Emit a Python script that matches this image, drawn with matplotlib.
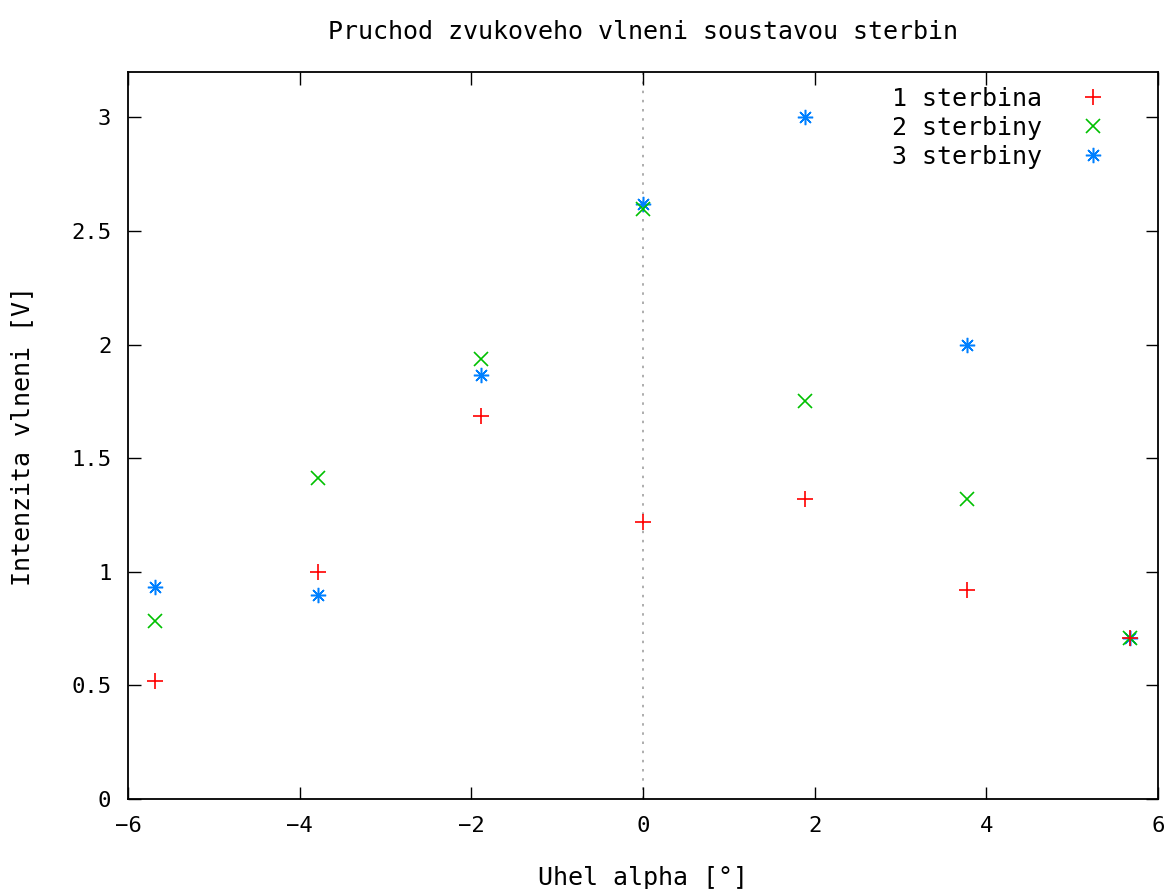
import matplotlib
matplotlib.use("Agg")
import matplotlib.pyplot as plt

# data
uhel = [-5.68, -3.79, -1.89, 0.0, 1.89, 3.78, 5.67]
sterbina1 = [0.52, 1.00, 1.685, 1.22, 1.32, 0.92, 0.71]
sterbiny2 = [0.785, 1.415, 1.935, 2.595, 1.75, 1.32, 0.71]
sterbiny3 = [0.935, 0.90, 1.865, 2.62, 3.00, 2.00, 0.71]

plt.rcParams['font.family'] = ['DejaVu Sans Mono']
plt.rcParams['font.size'] = 16

fig = plt.figure(figsize=(11.76, 8.89), dpi=100)
ax = fig.add_axes([0.1088, 0.1012, 0.8759, 0.8178])

ax.axvline(0, color='#a0a0a0', linestyle=(0, (1.5, 4)), linewidth=1.2, zorder=1)

ax.plot(uhel, sterbiny3, linestyle='none', marker=(8, 2, 0), markersize=11,
        markeredgewidth=1.1, color='#0080ff', label='3 sterbiny', zorder=3)
ax.plot(uhel, sterbiny2, linestyle='none', marker='x', markersize=10,
        markeredgewidth=1.2, color='#00c000', label='2 sterbiny', zorder=4)
ax.plot(uhel, sterbina1, linestyle='none', marker='+', markersize=12,
        markeredgewidth=1.2, color='#ff0000', label='1 sterbina', zorder=5)

ax.set_xlim(-6, 6)
ax.set_ylim(0, 3.2)
ax.set_xticks([-6, -4, -2, 0, 2, 4, 6])
ax.set_yticks([0, 0.5, 1, 1.5, 2, 2.5, 3])
ax.set_yticklabels(['0', '0.5', '1', '1.5', '2', '2.5', '3'])
ax.tick_params(direction='in', length=9, width=1, top=True, right=True, pad=12)
for s in ax.spines.values():
    s.set_linewidth(1.3)

ax.set_title('Pruchod zvukoveho vlneni soustavou sterbin', pad=24, fontsize=18)
ax.set_xlabel('Uhel alpha [°]', labelpad=22, fontsize=18)
ax.set_ylabel('Intenzita vlneni [V]', labelpad=27, fontsize=18)

h, l = ax.get_legend_handles_labels()
ax.legend(h[::-1], l[::-1], loc='upper right', frameon=False, markerfirst=False,
          fontsize=18, handletextpad=1.3, labelspacing=0.2,
          borderaxespad=0.2, handlelength=1.5, bbox_to_anchor=(0.97, 1.0))

fig.savefig('out.png', dpi=100)
